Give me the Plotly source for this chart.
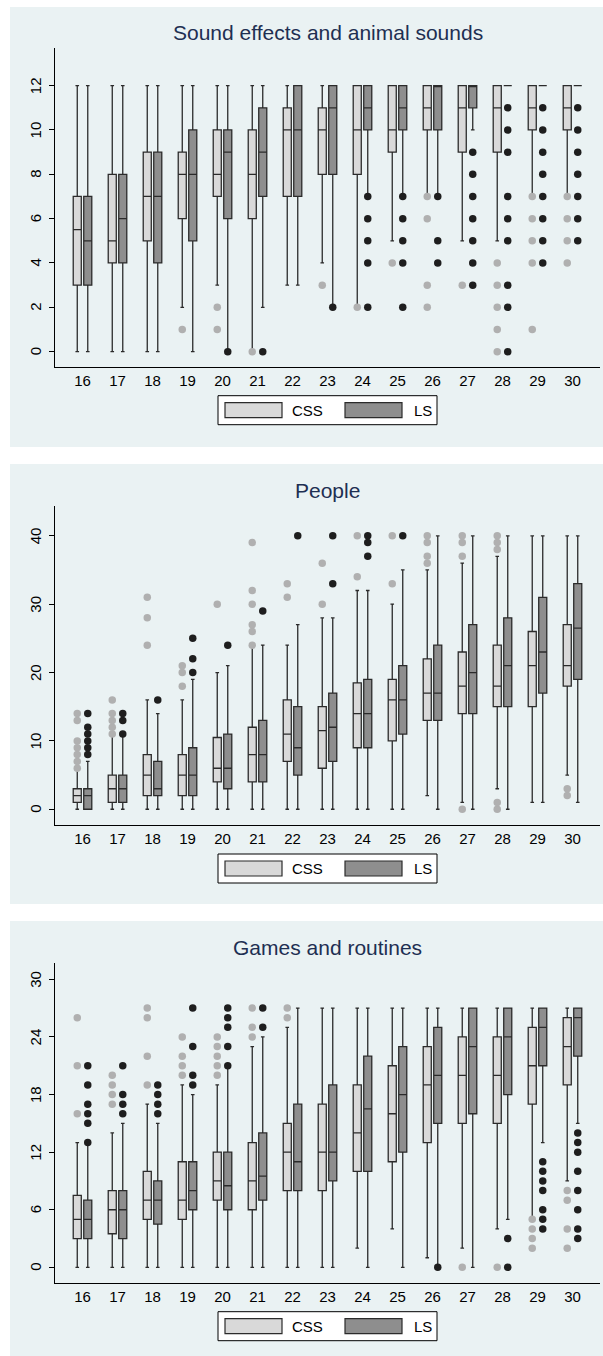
import plotly.graph_objects as go

W, H = 603, 1356

categories = [16, 17, 18, 19, 20, 21, 22, 23, 24, 25, 26, 27, 28, 29, 30]
tick_labels = [str(c) for c in categories]
group_names = ["CSS", "LS"]

# ---------------- Panel 1: Sound effects and animal sounds ----------------
sound_title = "Sound effects and animal sounds"
sound_css_lo = [0, 0, 0, 2, 3, 0, 3, 4, 2, 5, 7, 5, 5, 7, 7]
sound_css_q1 = [3, 4, 5, 6, 7, 6, 7, 8, 8, 9, 10, 9, 9, 10, 10]
sound_css_med = [5.5, 5, 7, 8, 8, 8, 10, 10, 10, 10, 11, 11, 11, 11, 11]
sound_css_q3 = [7, 8, 9, 9, 10, 10, 11, 11, 12, 12, 12, 12, 12, 12, 12]
sound_css_hi = [12, 12, 12, 12, 12, 12, 12, 12, 12, 12, 12, 12, 12, 12, 12]
sound_css_out = [[], [], [], [1], [2, 1], [0], [], [3], [2], [4], [7, 6, 3, 2], [3],
                 [4, 3, 2, 1, 0], [7, 6, 5, 4, 1], [7, 6, 5, 4]]
sound_ls_lo = [0, 0, 0, 0, 0, 2, 3, 2, 7, 7, 7, 10, 12, 12, 12]
sound_ls_q1 = [3, 4, 4, 5, 6, 7, 7, 8, 10, 10, 10, 11, 12, 12, 12]
sound_ls_med = [5, 6, 7, 8, 9, 9, 10, 11, 11, 11, 12, 12, 12, 12, 12]
sound_ls_q3 = [7, 8, 9, 10, 10, 11, 12, 12, 12, 12, 12, 12, 12, 12, 12]
sound_ls_hi = [12, 12, 12, 12, 12, 12, 12, 12, 12, 12, 12, 12, 12, 12, 12]
sound_ls_out = [[], [], [], [], [0], [0], [], [2], [7, 6, 5, 4, 2], [7, 6, 5, 4, 2], [7, 5, 4],
                [9, 8, 7, 6, 5, 4, 3], [11, 10, 9, 7, 6, 5, 3, 2, 0], [11, 10, 9, 8, 7, 6, 5, 4],
                [11, 10, 9, 8, 7, 6, 5]]
sound_yticks = [0, 2, 4, 6, 8, 10, 12]

# ---------------- Panel 2: People ----------------
people_title = "People"
people_css_lo = [0, 0, 0, 0, 0, 0, 0, 0, 0, 0, 2, 1, 3, 1, 5]
people_css_q1 = [1, 1, 2, 2, 4, 4, 7, 6, 9, 10, 13, 14, 15, 15, 18]
people_css_med = [2, 3, 5, 5, 6, 8, 11, 11.5, 14, 16, 17, 18, 18, 21, 21]
people_css_q3 = [3, 5, 8, 8, 10.5, 12, 16, 15, 18.5, 19, 22, 23, 24, 26, 27]
people_css_hi = [6, 11, 16, 16, 20, 24, 24, 28, 32, 30, 35, 36, 37, 40, 40]
people_css_out = [[6, 7, 8, 9, 10, 13, 14], [11, 12, 13, 14, 16], [24, 28, 31], [18, 20, 21], [30],
                  [24, 26, 27, 30, 32, 39], [31, 33], [30, 36], [34, 40], [33, 40],
                  [36, 37, 39, 40], [0, 37, 39, 40], [0, 1, 38, 39, 40], [], [2, 3]]
people_ls_lo = [0, 0, 0, 0, 0, 0, 0, 0, 0, 0, 0, 0, 0, 1, 1]
people_ls_q1 = [0, 1, 2, 2, 3, 4, 5, 7, 9, 11, 13, 14, 15, 17, 19]
people_ls_med = [2, 3, 3, 5, 6, 8, 9, 12, 14, 16, 17, 20, 21, 23, 26.5]
people_ls_q3 = [3, 5, 7, 9, 11, 13, 15, 17, 19, 21, 24, 27, 28, 31, 33]
people_ls_hi = [7, 11, 14, 19, 21, 24, 27, 28, 32, 35, 40, 40, 40, 40, 40]
people_ls_out = [[8, 9, 10, 11, 12, 14], [11, 13, 14], [16], [20, 22, 25], [24], [29], [40],
                 [33, 40], [37, 39, 40], [40], [], [], [], [], []]
people_yticks = [0, 10, 20, 30, 40]

# ---------------- Panel 3: Games and routines ----------------
games_title = "Games and routines"
games_css_lo = [0, 0, 0, 0, 0, 0, 0, 0, 2, 4, 1, 2, 4, 5, 9]
games_css_q1 = [3, 3.5, 5, 5, 7, 6, 8, 8, 10, 11, 13, 15, 15, 17, 19]
games_css_med = [5, 6, 7, 7, 9, 9, 12, 12, 14, 16, 19, 20, 20, 21, 23]
games_css_q3 = [7.5, 8, 10, 11, 12, 13, 15, 17, 19, 21, 23, 24, 24, 25, 26]
games_css_hi = [13, 14, 17, 19, 19, 23, 25, 27, 27, 27, 27, 27, 27, 27, 27]
games_css_out = [[16, 21, 26], [17, 18, 19, 20], [19, 22, 26, 27], [20, 21, 22, 24],
                 [20, 21, 22, 23, 24], [24, 25, 27], [26, 27], [], [], [], [], [0], [0],
                 [5, 4, 3, 2], [8, 7, 4, 2]]
games_ls_lo = [0, 0, 0, 0, 0, 0, 0, 0, 0, 0, 0, 0, 5, 13, 15]
games_ls_q1 = [3, 3, 4.5, 6, 6, 7, 8, 9, 10, 12, 15, 16, 18, 21, 22]
games_ls_med = [5, 6, 7, 8, 8.5, 9.5, 11, 12, 16.5, 18, 20, 23, 24, 25, 26]
games_ls_q3 = [7, 8, 9, 11, 12, 14, 17, 19, 22, 23, 25, 27, 27, 27, 27]
games_ls_hi = [13, 15, 15, 18, 21, 24, 27, 27, 27, 27, 27, 27, 27, 27, 27]
games_ls_out = [[13, 15, 16, 17, 19, 21], [16, 17, 18, 21], [16, 17, 18, 19], [19, 20, 23, 27],
                [21, 23, 25, 26, 27], [25, 27], [], [], [], [], [0], [], [3, 0],
                [11, 10, 9, 8, 6, 5, 4], [14, 13, 12, 10, 8, 6, 4, 3]]
games_yticks = [0, 6, 12, 18, 24, 30]

# ---------------- styles ----------------
FONT = "Liberation Sans, Arial, sans-serif"
BLUISH = "#EAF2F3"
CSS_FILL = "#D9D9D9"
LS_FILL = "#8E8E8E"
EDGE = "#2b2b2b"
CSS_DOT = "#B0B0B0"
LS_DOT = "#1E1E1E"
TITLE_COLOR = "#1E2F52"
OFF = 0.15
BW = 0.23

panels = [
    dict(title=sound_title, yticks=sound_yticks, yr=[-0.68, 13.72], bg=(7, 447), plot=(47.5, 366.7),
         css=(sound_css_lo, sound_css_q1, sound_css_med, sound_css_q3, sound_css_hi, sound_css_out),
         ls=(sound_ls_lo, sound_ls_q1, sound_ls_med, sound_ls_q3, sound_ls_hi, sound_ls_out)),
    dict(title=people_title, yticks=people_yticks, yr=[-2.3, 44.4], bg=(464, 904), plot=(505.7, 825),
         css=(people_css_lo, people_css_q1, people_css_med, people_css_q3, people_css_hi, people_css_out),
         ls=(people_ls_lo, people_ls_q1, people_ls_med, people_ls_q3, people_ls_hi, people_ls_out)),
    dict(title=games_title, yticks=games_yticks, yr=[-1.6, 31.7], bg=(921, 1356), plot=(963, 1282.7),
         css=(games_css_lo, games_css_q1, games_css_med, games_css_q3, games_css_hi, games_css_out),
         ls=(games_ls_lo, games_ls_q1, games_ls_med, games_ls_q3, games_ls_hi, games_ls_out)),
]

PLOT_L, PLOT_R = 55, 600
XR = [categories[0] - 0.786, categories[-1] + 0.786]


def fx(px):
    return px / W


def fy(py):
    return 1 - py / H


fig = go.Figure()
shapes = []
annotations = []
layout_axes = {}

for i, p in enumerate(panels):
    n = "" if i == 0 else str(i + 1)
    xa, ya = "x" + n, "y" + n
    for grp, off, fill, dot in (("css", -OFF, CSS_FILL, CSS_DOT), ("ls", OFF, LS_FILL, LS_DOT)):
        lo, q1, med, q3, hi, out = p[grp]
        xs = [c + off for c in categories]
        fig.add_trace(go.Box(
            x=xs, lowerfence=lo, q1=q1, median=med, q3=q3, upperfence=hi,
            xaxis=xa, yaxis=ya, fillcolor=fill, line=dict(color=EDGE, width=1.3),
            width=BW, whiskerwidth=0.45, boxpoints=False, showlegend=False, hoverinfo="skip",
        ))
        ox = [c + off for c, vals in zip(categories, out) for _ in vals]
        oy = [v for vals in out for v in vals]
        fig.add_trace(go.Scatter(
            x=ox, y=oy, mode="markers", xaxis=xa, yaxis=ya,
            marker=dict(color=dot, size=7.5, line=dict(width=0)),
            showlegend=False, hoverinfo="skip",
        ))

    top, bot = p["plot"]
    layout_axes["xaxis" + n] = dict(
        domain=[fx(PLOT_L), fx(PLOT_R)], range=XR, anchor=ya,
        tickvals=categories, ticktext=tick_labels, showline=True, linecolor="#000", linewidth=1,
        ticks="", showgrid=False, zeroline=False,
        tickfont=dict(family=FONT, size=15, color="#000"),
    )
    layout_axes["yaxis" + n] = dict(
        domain=[fy(bot), fy(top)], range=p["yr"], anchor=xa,
        tickvals=p["yticks"], showticklabels=False,
        ticks="outside", ticklen=5, tickcolor="#000", tickwidth=1,
        showline=True, linecolor="#000", linewidth=1,
        showgrid=True, gridcolor=BLUISH, gridwidth=1, zeroline=False,
    )
    # rotated y tick labels (vertical, reading bottom-to-top)
    for t in p["yticks"]:
        annotations.append(dict(text=str(t), xref="paper", yref=ya, x=fx(35.5), y=t,
                                xanchor="center", yanchor="middle", textangle=-90,
                                showarrow=False, font=dict(family=FONT, size=15, color="#000")))

    # panel background
    bt, bb = p["bg"]
    shapes.append(dict(type="rect", xref="paper", yref="paper", x0=fx(10), x1=fx(603),
                       y0=fy(bb), y1=fy(bt), fillcolor=BLUISH, line=dict(width=0), layer="below"))
    # title
    annotations.append(dict(text=p["title"], xref="paper", yref="paper",
                            x=fx((PLOT_L + PLOT_R) / 2), y=fy(top - 15.5),
                            xanchor="center", yanchor="middle", showarrow=False,
                            font=dict(family=FONT, size=21, color=TITLE_COLOR)))
    # legend
    lt, lb = bot + 29, bot + 58
    lc = (lt + lb) / 2
    shapes.append(dict(type="rect", xref="paper", yref="paper", x0=fx(218), x1=fx(437),
                       y0=fy(lb), y1=fy(lt), fillcolor="#FFFFFF", line=dict(color="#000", width=1)))
    for (k0, k1, tx, fill, name) in ((225, 282, 290, CSS_FILL, group_names[0]),
                                      (345, 402, 412, LS_FILL, group_names[1])):
        shapes.append(dict(type="rect", xref="paper", yref="paper", x0=fx(k0), x1=fx(k1),
                           y0=fy(lc + 7.5), y1=fy(lc - 7.5), fillcolor=fill,
                           line=dict(color=EDGE, width=1.2)))
        annotations.append(dict(text=name, xref="paper", yref="paper", x=fx(tx), y=fy(lc),
                                xanchor="left", yanchor="middle", showarrow=False,
                                font=dict(family=FONT, size=15, color="#000")))

fig.update_layout(
    width=W, height=H, margin=dict(l=0, r=0, t=0, b=0),
    paper_bgcolor="#FFFFFF", plot_bgcolor="#FFFFFF",
    boxmode="overlay", showlegend=False,
    shapes=shapes, annotations=annotations,
    font=dict(family=FONT),
    **layout_axes,
)

fig.write_html("out.html", config={"displayModeBar": False})
